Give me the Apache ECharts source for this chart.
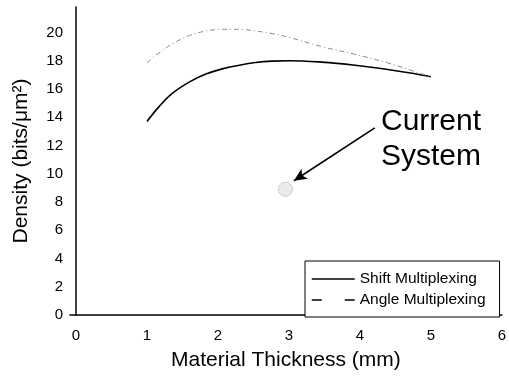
<!DOCTYPE html>
<html>
<head>
<meta charset="utf-8">
<script src="https://cdn.jsdelivr.net/npm/echarts@6/dist/echarts.min.js"></script>
<style>
  html, body { margin: 0; padding: 0; background: #fff; }
  #chart { width: 509px; height: 381px; }
</style>
</head>
<body>
<div id="chart"></div>
<script>
// Material thickness (mm) sample positions for each curve
const shiftThickness = [1.0, 1.17, 1.36, 1.6, 1.83, 2.06, 2.3, 2.53, 2.76, 3.0, 3.46, 3.93, 4.39, 4.76, 5.0];
const shiftDensity   = [13.7, 14.75, 15.7, 16.5, 17.05, 17.42, 17.68, 17.87, 17.97, 18.0, 17.9, 17.68, 17.38, 17.09, 16.86];

const angleThickness = [1.0, 1.17, 1.36, 1.6, 1.83, 2.06, 2.3, 2.53, 2.76, 3.0, 3.46, 3.93, 4.39, 4.76, 5.0];
const angleDensity   = [17.85, 18.55, 19.2, 19.78, 20.1, 20.22, 20.22, 20.1, 19.92, 19.65, 19.0, 18.45, 17.85, 17.25, 16.86];

// Current system operating point: [thickness, density]
const currentSystem = [2.95, 8.9];
// Annotation arrow from the label towards the point
const arrowFrom = [4.21, 13.25];
const arrowTo   = [3.07, 9.5];

const xTickLabels = [0, 1, 2, 3, 4, 5, 6];
const yTickLabels = [0, 2, 4, 6, 8, 10, 12, 14, 16, 18, 20];

const seriesNames = ['Shift Multiplexing', 'Angle Multiplexing'];

const toPairs = (xs, ys) => xs.map((x, i) => [x, ys[i]]);

const font = 'Liberation Sans, Arial, Helvetica, sans-serif';
const chart = echarts.init(document.getElementById('chart'), null, { renderer: 'canvas' });

chart.setOption({
  animation: false,
  backgroundColor: '#fff',
  textStyle: { fontFamily: font, color: '#000' },
  grid: { left: 70, right: 4, top: 7, bottom: 66, containLabel: false },
  xAxis: {
    type: 'value',
    min: -0.085,
    max: 6,
    name: 'Material Thickness (mm)',
    nameLocation: 'middle',
    nameGap: 35,
    nameTextStyle: { fontSize: 21, fontFamily: font, color: '#000' },
    axisLine: { show: true, onZero: false, lineStyle: { color: '#000', width: 1.5 } },
    axisTick: { show: false },
    splitLine: { show: false },
    axisLabel: {
      customValues: xTickLabels,
      fontSize: 15, fontFamily: font, color: '#000', margin: 13
    }
  },
  yAxis: {
    type: 'value',
    min: 0,
    max: 21.8,
    name: 'Density (bits/μm²)',
    nameLocation: 'middle',
    nameRotate: 90,
    nameGap: 38,
    nameTextStyle: { fontSize: 21, fontFamily: font, color: '#000' },
    axisLine: { show: true, lineStyle: { color: '#000', width: 1.5 } },
    axisTick: { show: false },
    splitLine: { show: false },
    axisLabel: {
      customValues: yTickLabels,
      fontSize: 15, fontFamily: font, color: '#000', margin: 7
    }
  },
  legend: {
    show: true,
    orient: 'vertical',
    left: 305,
    top: 261,
    itemWidth: 43,
    itemHeight: 14,
    itemGap: 5,
    padding: [10, 14, 9, 6],
    borderColor: '#000',
    borderWidth: 1,
    backgroundColor: '#fff',
    textStyle: { fontSize: 15.5, fontFamily: font, color: '#000' },
    data: [
      { name: seriesNames[0], itemStyle: { opacity: 0 }, lineStyle: { color: '#000', width: 1.4, type: 'solid', opacity: 1 } },
      { name: seriesNames[1], itemStyle: { opacity: 0 }, lineStyle: { color: '#000', width: 1.5, type: [10, 23], opacity: 1 } }
    ]
  },
  series: [
    {
      name: seriesNames[0],
      type: 'line',
      smooth: 0.4,
      symbol: 'none',
      data: toPairs(shiftThickness, shiftDensity),
      lineStyle: { color: '#000', width: 1.6 },
      itemStyle: { color: '#000' }
    },
    {
      name: seriesNames[1],
      type: 'line',
      smooth: 0.4,
      symbol: 'none',
      data: toPairs(angleThickness, angleDensity),
      lineStyle: { color: '#8a8a8a', width: 1, type: [5, 3, 1, 3] },
      itemStyle: { color: '#8a8a8a' }
    },
    {
      name: 'Current System',
      type: 'scatter',
      symbol: 'circle',
      symbolSize: 14,
      data: [currentSystem],
      itemStyle: { color: '#e6e6e6', borderColor: '#8c8c8c', borderWidth: 1, borderType: 'dotted' },
      markLine: {
        silent: true,
        symbol: ['none', 'arrow'],
        symbolSize: [9, 13],
        label: { show: false },
        lineStyle: { color: '#000', width: 1.6, type: 'solid' },
        data: [[{ coord: arrowFrom }, { coord: arrowTo }]]
      }
    }
  ],
  graphic: [
    {
      type: 'text',
      x: 431,
      y: 104,
      style: {
        text: 'Current\nSystem',
        font: '30px ' + font,
        fill: '#000',
        align: 'center',
        lineHeight: 35
      }
    }
  ]
});
</script>
</body>
</html>
